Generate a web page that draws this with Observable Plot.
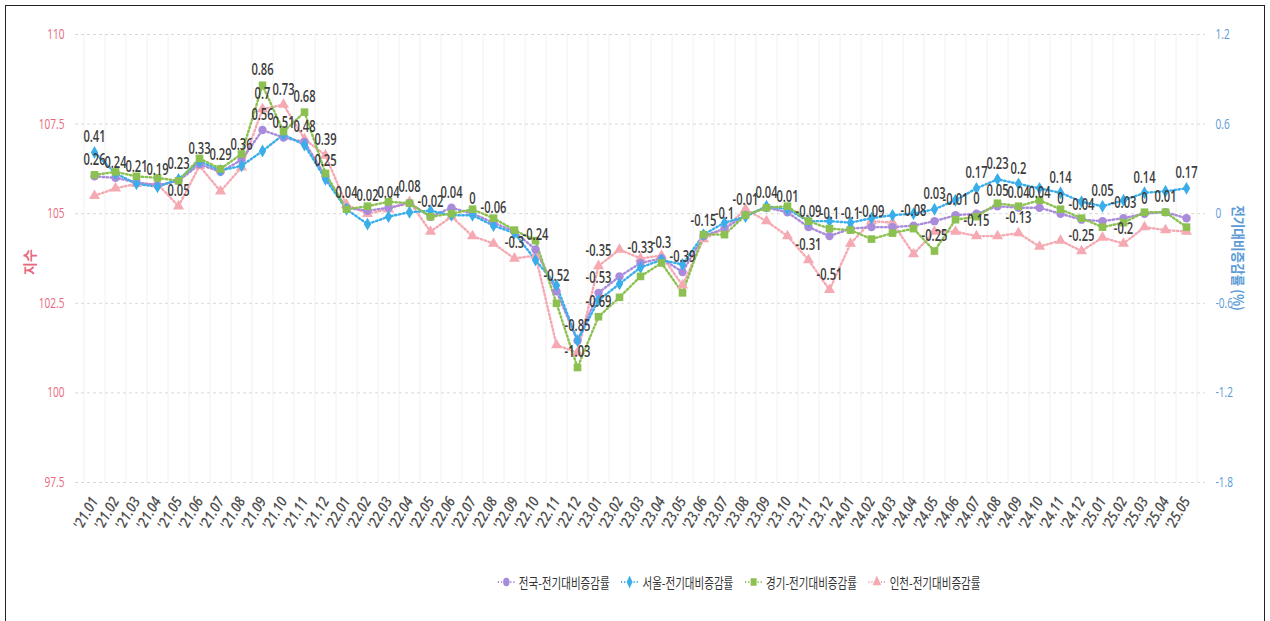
<!DOCTYPE html>
<html><head><meta charset="utf-8">
<script src="https://cdn.jsdelivr.net/npm/d3@7"></script>
<script src="https://cdn.jsdelivr.net/npm/@observablehq/plot@0.6"></script>
<style>
body{margin:0;background:#fff;font-family:"Noto Sans CJK KR",sans-serif;width:1270px;height:621px;overflow:hidden;position:relative;}
#frame{position:absolute;left:5px;top:5px;width:1260px;height:630px;border:1.5px solid #222;box-sizing:border-box;}
#chart{position:absolute;left:0;top:0;}
#legend{position:absolute;top:572px;left:497px;display:flex;gap:14px;font-size:13.5px;color:#333;transform:scaleX(0.78);transform-origin:left center;white-space:nowrap;}
.item{display:flex;align-items:center;gap:4px;}
.ttl{position:absolute;font-size:14px;font-weight:600;white-space:nowrap;}
</style></head><body>
<div id="frame"></div>
<div id="chart"></div>
<div class="ttl" id="lt" style="left:16px;top:252px;color:#e8677c;transform:rotate(-90deg);">지수</div>
<div class="ttl" id="rt" style="left:1180px;top:248px;color:#5b9bd5;transform:rotate(90deg) scaleX(0.9);transform-origin:center;">전기대비증감률 (%)</div>
<div id="legend"></div>
<script>
const months = ["'21.01","'21.02","'21.03","'21.04","'21.05","'21.06","'21.07","'21.08","'21.09","'21.10","'21.11","'21.12",
"'22.01","'22.02","'22.03","'22.04","'22.05","'22.06","'22.07","'22.08","'22.09","'22.10","'22.11","'22.12",
"'23.01","'23.02","'23.03","'23.04","'23.05","'23.06","'23.07","'23.08","'23.09","'23.10","'23.11","'23.12",
"'24.01","'24.02","'24.03","'24.04","'24.05","'24.06","'24.07","'24.08","'24.09","'24.10","'24.11","'24.12",
"'25.01","'25.02","'25.03","'25.04","'25.05"];

const seriesKeys = ["N","S","G","I"];
const seriesNames = ["전국-전기대비증감률","서울-전기대비증감률","경기-전기대비증감률","인천-전기대비증감률"];
const seriesColors = ["#a98bdc","#3aaeea","#8cc152","#f5a9b2"];
const seriesSymbols = ["circle","diamond","square","triangle"];
const seriesSizes = [4.2, 3.9, 4.3, 4.1];

const nationwide = [0.25,0.24,0.21,0.19,0.22,0.33,0.28,0.36,0.56,0.51,0.48,0.25,
0.04,0.02,0.04,0.07,-0.02,0.04,0,-0.06,-0.12,-0.24,-0.52,-0.85,
-0.53,-0.42,-0.33,-0.3,-0.39,-0.15,-0.1,-0.01,0.04,0.01,-0.09,-0.15,
-0.1,-0.09,-0.09,-0.08,-0.05,-0.01,0,0.05,0.04,0.04,0,-0.04,
-0.05,-0.03,0,0.01,-0.03];
const seoul = [0.41,0.27,0.2,0.18,0.23,0.35,0.29,0.32,0.42,0.53,0.46,0.23,
0.03,-0.07,-0.02,0.01,0.02,-0.01,-0.01,-0.08,-0.13,-0.31,-0.48,-0.85,
-0.58,-0.47,-0.36,-0.31,-0.34,-0.14,-0.06,-0.02,0.05,0.03,-0.05,-0.05,
-0.06,-0.03,-0.01,0,0.03,0.09,0.17,0.23,0.2,0.17,0.14,0.08,
0.05,0.09,0.14,0.15,0.17];
const gyeonggi = [0.26,0.28,0.25,0.24,0.22,0.37,0.3,0.4,0.86,0.55,0.68,0.27,
0.03,0.05,0.08,0.07,-0.02,0,0.03,-0.03,-0.11,-0.18,-0.6,-1.03,
-0.69,-0.56,-0.42,-0.33,-0.53,-0.14,-0.14,-0.01,0.04,0.05,-0.05,-0.1,
-0.11,-0.17,-0.13,-0.1,-0.25,-0.04,-0.02,0.07,0.05,0.09,0.03,-0.03,
-0.09,-0.06,0.01,0.01,-0.09];
const incheon = [0.12,0.17,0.2,0.2,0.05,0.32,0.15,0.31,0.7,0.73,0.5,0.39,
0.06,0,0.03,0.08,-0.12,-0.02,-0.15,-0.2,-0.3,-0.28,-0.88,-0.93,
-0.35,-0.24,-0.3,-0.28,-0.48,-0.17,-0.1,0.03,-0.05,-0.15,-0.31,-0.51,
-0.2,-0.05,-0.06,-0.27,-0.12,-0.12,-0.15,-0.15,-0.13,-0.22,-0.18,-0.25,
-0.16,-0.2,-0.09,-0.11,-0.12];

// which series show a data label at each month (N=전국, S=서울, G=경기, I=인천)
const labelSeries = ["SG","N","N","N","SI","N","S","N","GIN","IN","GN","IN",
"N","N","N","I","N","N","N","N","I","N","N","NG",
"ING","","N","N","N","N","N","N","N","N","NI","GI",
"N","N","","N","SG","N","SNI","SN","SNI","N","SN","NI",
"S","NI","SN","N","S"];

const rightTicks = [-1.8,-1.2,-0.6,0,0.6,1.2];
const leftTickLabels = ["97.5","100","102.5","105","107.5","110"];

const seriesValues = [nationwide, seoul, gyeonggi, incheon];
const rows = [];
seriesKeys.forEach((k, si) => months.forEach((m, i) => rows.push({key:k, si, month:m, value:seriesValues[si][i]})));
const labelRows = [];
months.forEach((m, i) => {
  for (const k of labelSeries[i]) {
    const si = seriesKeys.indexOf(k);
    labelRows.push({month:m, value:seriesValues[si][i], text:String(seriesValues[si][i])});
  }
});

const font = '"Open Sans","Noto Sans CJK KR",sans-serif';
const drawOrder = [3,0,1,2];
const W = 1270, H = 550, ML = 75, MR = 65;
const step = (W - ML - MR) / (months.length - 1 + 1.3);

const marks = [
  Plot.ruleX(months, {dx: step/2, stroke:"#f1f1f1", strokeWidth:1}),
  Plot.ruleX([months[0]], {dx: -step/2, stroke:"#f1f1f1", strokeWidth:1}),
  Plot.gridY(rightTicks, {stroke:"#d9d9d9", strokeOpacity:1, strokeDasharray:"3,3"}),
  Plot.axisY(rightTicks, {anchor:"left", tickSize:0, tickPadding:11, label:null, fontSize:14,
    color:"#e8677c", tickFormat:d => leftTickLabels[rightTicks.indexOf(d)]}),
  Plot.axisY(rightTicks, {anchor:"right", tickSize:0, tickPadding:10, label:null, fontSize:14,
    color:"#5b9bd5", tickFormat:d => String(d)}),
  Plot.axisX({tickRotate:-60, tickSize:0, tickPadding:16, label:null, fontSize:15, color:"#505050", fontStyle:"italic", fontWeight:600}),
];
for (const si of drawOrder) {
  const data = rows.filter(r => r.si === si);
  marks.push(Plot.line(data, {x:"month", y:"value", stroke:seriesColors[si], strokeWidth:2.4,
    strokeDasharray:"1.5,2.5", curve:"linear"}));
}
for (const si of drawOrder) {
  const data = rows.filter(r => r.si === si);
  marks.push(Plot.dot(data, {x:"month", y:"value", fill:seriesColors[si], symbol:seriesSymbols[si], r:seriesSizes[si]}));
}
marks.push(Plot.text(labelRows, {x:"month", y:"value", text:"text", dy:-15, fontSize:15.5, fontWeight:600, fill:"#3c3c3c"}));

const chart = Plot.plot({
  width: W, height: H,
  marginLeft: ML, marginRight: MR, marginTop: 34, marginBottom: H - 482,
  style: {fontFamily: font, background:"transparent"},
  x: {type:"point", domain: months, padding: 0.65, label:null},
  y: {domain: [-1.8, 1.2], label:null},
  marks
});
document.getElementById("chart").appendChild(chart);
// condensed type like the reference: squeeze each label along its own baseline
function squeeze(sel, k) {
  sel.each(function() {
    const t = this.getAttribute("transform");
    if (t) this.setAttribute("transform", t + ` scale(${k},1)`);
    else {
      const x = +this.getAttribute("x") || 0, y = +this.getAttribute("y") || 0;
      this.removeAttribute("x"); this.removeAttribute("y");
      this.setAttribute("transform", `translate(${x},${y}) scale(${k},1)`);
    }
  });
}
squeeze(d3.select(chart).selectAll('g[aria-label="text"] text'), 0.72);
squeeze(d3.select(chart).selectAll('g[aria-label="y-axis tick label"] text'), 0.72);
squeeze(d3.select(chart).selectAll('g[aria-label="x-axis tick label"] text'), 0.85);

const legend = document.getElementById("legend");
const symIdx = {circle:0, diamond:2, square:3, triangle:5};
seriesNames.forEach((name, si) => {
  const item = document.createElement("div");
  item.className = "item";
  const sym = d3.symbol(d3.symbolsFill[symIdx[seriesSymbols[si]]], Math.PI * seriesSizes[si] * seriesSizes[si])();
  item.innerHTML = `<svg width="24" height="14"><line x1="1" x2="23" y1="7" y2="7" stroke="${seriesColors[si]}" stroke-width="2" stroke-dasharray="1.5,2.5"/><path d="${sym}" transform="translate(12,7)" fill="${seriesColors[si]}"/></svg><span>${name}</span>`;
  legend.appendChild(item);
});
</script>
</body></html>
